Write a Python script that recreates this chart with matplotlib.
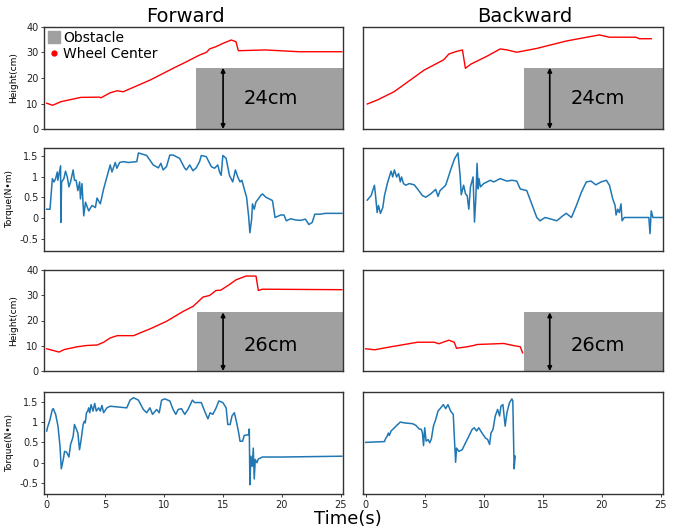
import matplotlib
matplotlib.use("Agg")
import matplotlib.pyplot as plt
from matplotlib.lines import Line2D

# ---- Forward 24cm : wheel center height ----
t_f24_h = [0, 0.5, 1.2, 2.3, 2.9, 4.5, 4.6, 5.4, 6.0, 6.5, 8.8, 10.75, 11.9, 13.0,
           13.6, 13.85, 14.4, 15.0, 15.7, 16.1, 16.3, 18.6, 21.45, 25.1]
h_f24 = [10.1, 9.3, 10.7, 11.8, 12.4, 12.5, 12.2, 14.2, 15.0, 14.6, 19.2, 23.8, 26.4, 29.0,
         30.1, 31.4, 32.3, 33.6, 34.9, 34.2, 30.7, 31.0, 30.3, 30.3]

# ---- Backward 24cm : wheel center height ----
t_b24_h = [0.13, 1.0, 2.4, 4.95, 6.6, 7.05, 7.6, 8.2, 8.45, 8.9, 10.3, 11.4, 12.0, 12.8,
           14.5, 17.0, 19.8, 20.65, 22.9, 23.2, 24.2]
h_b24 = [9.8, 11.4, 14.6, 23.1, 27.1, 29.4, 30.3, 31.0, 23.8, 25.4, 28.6, 31.4, 31.0, 30.1,
         31.6, 34.5, 36.9, 36.0, 36.0, 35.4, 35.4]

# ---- Forward 24cm : torque ----
t_f24_q = [0, 0.28, 0.48, 0.62, 0.76, 0.9, 0.95, 1.18, 1.2, 1.27, 1.46, 1.6, 1.75, 1.89, 2.03,
           2.25, 2.36, 2.5, 2.65, 2.8, 2.87, 3.0, 3.15, 3.3, 3.57, 3.86, 4.14, 4.28, 4.56,
           4.84, 5.12, 5.4, 5.55, 5.83, 5.97, 6.2, 6.53, 6.95, 7.66, 7.8, 8.5, 9.06, 9.5,
           9.71, 9.9, 10.19, 10.47, 10.75, 11.3, 11.74, 11.88, 12.16, 12.44, 12.72, 13.0,
           13.15, 13.57, 14.0, 14.27, 14.55, 14.7, 14.84, 14.98, 15.26, 15.54, 15.82, 16.05,
           16.25, 16.44, 16.6, 16.8, 17.0, 17.17, 17.28, 17.43, 17.5, 17.65, 17.79, 18.2,
           18.35, 18.64, 19.2, 19.42, 19.9, 20.18, 20.38, 20.75, 21.17, 21.6, 22.0, 22.3,
           22.58, 22.8, 23.28, 23.7, 25.1]
q_f24 = [0.21, 0.21, 0.95, 0.87, 0.95, 1.11, 0.91, 1.26, -0.11, 0.87, 0.95, 1.13, 0.99, 0.75,
         0.87, 1.16, 0.91, 0.91, 0.66, 0.87, 0.46, 0.83, 0.05, 0.38, 0.17, 0.3, 0.25, 0.48,
         0.34, 0.70, 0.99, 1.28, 1.11, 1.34, 1.2, 1.34, 1.36, 1.34, 1.36, 1.57, 1.51, 1.28,
         1.21, 1.32, 1.16, 1.24, 1.52, 1.52, 1.44, 1.2, 1.16, 1.28, 1.14, 1.21, 1.36, 1.51,
         1.48, 1.24, 1.2, 1.28, 1.11, 1.03, 1.51, 1.44, 1.03, 0.87, 1.16, 0.99, 0.87, 0.91,
         0.70, 0.50, 0.05, -0.36, -0.03, 0.34, 0.21, 0.38, 0.54, 0.58, 0.50, 0.42, 0.01,
         0.07, 0.07, -0.07, -0.02, -0.05, -0.06, -0.03, -0.16, -0.11, 0.09, 0.09, 0.11, 0.11]

# ---- Backward 24cm : torque ----
t_b24_q = [0.13, 0.46, 0.74, 0.82, 0.97, 1.08, 1.25, 1.45, 1.59, 1.87, 2.15, 2.29, 2.43, 2.62,
           2.79, 2.93, 3.04, 3.2, 3.4, 3.69, 4.11, 4.39, 4.81, 5.09, 5.51, 5.93, 6.13, 6.3,
           6.78, 7.2, 7.53, 7.82, 8.0, 8.1, 8.3, 8.46, 8.6, 8.74, 8.88, 9.1, 9.22, 9.33, 9.44,
           9.53, 9.6, 9.72, 10.0, 10.56, 10.85, 11.4, 11.97, 12.4, 12.8, 13.1, 13.65, 14.07,
           14.5, 14.77, 15.2, 15.6, 16.2, 16.7, 17.0, 17.44, 17.86, 18.28, 18.7, 19.1, 19.5,
           19.96, 20.4, 20.66, 20.94, 21.14, 21.22, 21.36, 21.5, 21.64, 21.73, 21.92, 22.6,
           24.0, 24.1, 24.2, 24.35, 25.15]
q_b24 = [0.43, 0.54, 0.79, 0.58, 0.13, 0.3, 0.11, 0.25, 0.54, 0.87, 1.13, 0.99, 1.16, 0.99,
         1.07, 0.87, 0.99, 0.83, 0.79, 0.83, 0.80, 0.70, 0.54, 0.50, 0.58, 0.69, 0.52, 0.66,
         0.79, 1.16, 1.43, 1.57, 1.03, 0.56, 0.79, 0.58, 0.54, 0.21, 0.75, 0.99, -0.1, 0.46,
         1.32, 0.70, 0.95, 0.75, 0.83, 0.91, 0.87, 0.95, 0.89, 0.91, 0.89, 0.70, 0.66, 0.34,
         0.01, -0.07, 0.01, -0.02, -0.07, 0.05, 0.11, 0.01, 0.30, 0.62, 0.87, 0.89, 0.80,
         0.87, 0.91, 0.79, 0.46, 0.30, 0.07, 0.21, 0.13, 0.34, -0.07, 0.01, 0.01,
         0.01, -0.38, 0.17, 0.01, 0.01]

# ---- Forward 26cm : wheel center height ----
t_f26_h = [0, 1.05, 1.5, 2.6, 3.4, 4.3, 4.85, 5.4, 6.0, 7.4, 7.95, 8.8, 10.2, 11.6, 12.45,
           13.3, 13.85, 14.4, 14.8, 15.5, 16.1, 16.95, 17.8, 18.0, 18.35, 25.1]
h_f26 = [8.8, 7.5, 8.5, 9.6, 10.1, 10.3, 11.4, 13.1, 14.0, 14.0, 15.1, 16.7, 19.7, 23.6, 25.6,
         29.3, 29.9, 31.9, 32.0, 34.1, 36.1, 37.6, 37.6, 31.9, 32.4, 32.2]

# ---- Backward 26cm : wheel center height ----
t_b26_h = [0, 0.75, 2.15, 4.4, 5.8, 6.2, 7.05, 7.5, 7.7, 8.6, 9.15, 9.45, 11.7, 12.5, 13.1, 13.3]
h_b26 = [8.8, 8.4, 9.6, 11.4, 11.4, 10.8, 12.2, 11.4, 9.0, 9.6, 10.1, 10.5, 10.9, 10.1, 9.6, 7.2]

# ---- Forward 26cm : torque ----
t_f26_q = [0, 0.06, 0.28, 0.48, 0.56, 0.76, 0.96, 1.13, 1.24, 1.41, 1.52, 1.69, 1.89, 2.03,
           2.17, 2.25, 2.36, 2.53, 2.65, 2.79, 2.93, 3.1, 3.2, 3.28, 3.38, 3.49, 3.57, 3.66,
           3.77, 3.94, 4.08, 4.22, 4.42, 4.56, 4.7, 4.84, 5.12, 5.4, 6.81, 7.09, 7.38, 7.8,
           8.22, 8.5, 8.78, 9.0, 9.35, 9.57, 9.77, 10.05, 10.47, 10.75, 10.98, 11.18, 11.46,
           11.74, 12.02, 12.39, 12.58, 13.15, 13.43, 13.71, 13.9, 14.13, 14.41, 14.64, 14.98,
           15.26, 15.4, 15.6, 15.76, 15.96, 16.16, 16.33, 16.44, 16.66, 16.8, 17.17, 17.23,
           17.28, 17.37, 17.48, 17.57, 17.65, 17.74, 17.88, 18.0, 18.35, 20.0, 25.1]
q_f26 = [0.78, 0.86, 1.06, 1.31, 1.33, 1.19, 0.90, 0.41, -0.15, 0.08, 0.28, 0.26, 0.14, 0.45,
         0.57, 0.65, 0.94, 0.82, 0.73, 0.32, 0.57, 0.94, 1.02, 0.98, 1.23, 1.27, 1.35, 1.23,
         1.43, 1.27, 1.46, 1.27, 1.35, 1.27, 1.41, 1.23, 1.35, 1.39, 1.35, 1.54, 1.60, 1.54,
         1.31, 1.23, 1.35, 1.19, 1.31, 1.23, 1.54, 1.57, 1.52, 1.31, 1.19, 1.31, 1.33,
         1.19, 1.31, 1.54, 1.48, 1.48, 1.27, 1.08, 1.23, 1.19, 1.35, 1.52, 1.48,
         1.35, 0.94, 0.94, 1.15, 1.23, 0.98, 0.73, 0.53, 0.53, 0.67, 0.69, 0.83,
         -0.54, 0.16, -0.09, 0.36, -0.40, 0.08, 0.0, 0.09, 0.14, 0.14, 0.16]

# ---- Backward 26cm : torque ----
t_b26_q = [0, 1.59, 1.68, 1.81, 1.92, 2.0, 2.15, 2.57, 2.93, 3.27, 3.97, 4.25, 4.53, 4.72, 4.81,
           4.9, 5.0, 5.12, 5.29, 5.43, 5.57, 5.74, 5.93, 6.13, 6.36, 6.58, 6.78, 6.97, 7.2,
           7.42, 7.53, 7.62, 7.7, 7.9, 8.18, 8.46, 8.74, 9.02, 9.2, 9.4, 9.58, 9.86, 10.14,
           10.34, 10.5, 10.62, 10.79, 10.98, 11.18, 11.35, 11.46, 11.63, 11.82, 11.97, 12.19,
           12.39, 12.47, 12.58, 12.67]
q_b26 = [0.50, 0.52, 0.59, 0.65, 0.73, 0.67, 0.78, 0.90, 1.0, 0.98, 0.96, 0.92, 0.83, 0.82,
         0.73, 0.42, 0.86, 0.53, 0.57, 0.49, 0.59, 0.90, 1.06, 1.27, 1.35, 1.43, 1.33, 1.43,
         1.27, 1.19, 0.53, 0.01, 0.36, 0.28, 0.32, 0.49, 0.65, 0.82, 0.86, 0.78, 0.86, 0.73,
         0.61, 0.57, 0.45, 0.73, 0.82, 1.15, 1.31, 1.15, 1.39, 1.43, 0.90, 1.23, 1.48,
         1.57, 1.52, -0.15, 0.16]

# obstacles: start time, height, arrow time, label, label position
obs_start = [12.67, 13.4, 12.8, 13.4]
obs_height = [24, 24, 23.2, 23.2]
arrow_t = [15.0, 15.6, 15.0, 15.6]
obs_label = ["24cm", "24cm", "26cm", "26cm"]
label_t = [19.05, 19.7, 19.05, 19.7]
label_h = [11.8, 11.8, 10.1, 10.1]

h_ticks = [0, 10, 20, 30, 40]
q_ticks = [-0.5, 0, 0.5, 1, 1.5]
q_ticklabels = ["-0.5", "0", "0.5", "1", "1.5"]
t_ticks = [0, 5, 10, 15, 20, 25]

W, H = 694, 529
fig = plt.figure(figsize=(W / 100, H / 100), dpi=100)

cols_px = [(44, 343), (363, 663)]
rows_px = [(27, 129), (148, 251), (270, 371), (392, 494)]
axes = [[None, None] for _ in range(4)]
for r, (yt, yb) in enumerate(rows_px):
    for c, (xl, xr) in enumerate(cols_px):
        ax = fig.add_axes([xl / W, 1 - yb / H, (xr - xl) / W, (yb - yt) / H])
        for s in ax.spines.values():
            s.set_color("#333333")
            s.set_linewidth(1.0)
        ax.set_xlim(-0.23, 25.2)
        ax.tick_params(labelsize=7, length=2.5, width=0.6, colors="#222222", pad=1.5)
        axes[r][c] = ax

height_series = [[(t_f24_h, h_f24), (t_b24_h, h_b24)],
                 [(t_f26_h, h_f26), (t_b26_h, h_b26)]]
torque_series = [[(t_f24_q, q_f24), (t_b24_q, q_b24)],
                 [(t_f26_q, q_f26), (t_b26_q, q_b26)]]
q_lims = [(-0.8, 1.69), (-0.77, 1.74)]

k = 0
for blk in range(2):
    for c in range(2):
        axh = axes[2 * blk][c]
        axq = axes[2 * blk + 1][c]
        axh.bar(obs_start[k], obs_height[k], width=26 - obs_start[k], align="edge",
                color="#a0a0a0", zorder=1)
        axh.annotate("", xy=(arrow_t[k], obs_height[k]), xytext=(arrow_t[k], 0),
                     arrowprops=dict(arrowstyle="<|-|>", color="black", lw=1.2,
                                     mutation_scale=6, shrinkA=0, shrinkB=0), zorder=3)
        axh.text(label_t[k], label_h[k], obs_label[k], fontsize=14, ha="center", va="center")
        th, hh = height_series[blk][c]
        axh.plot(th, hh, color="red", lw=1.0, zorder=2)
        axh.set_ylim(0, 40)
        axh.set_yticks(h_ticks)
        tq, qq = torque_series[blk][c]
        axq.plot(tq, qq, color="#1f77b4", lw=1.1)
        axq.set_ylim(*q_lims[blk])
        axq.set_yticks(q_ticks)
        axq.set_yticklabels(q_ticklabels)
        if c == 0:
            axh.set_ylabel("Height(cm)", fontsize=6.5, labelpad=6)
            axq.set_ylabel("Torque(N\u2022m)", fontsize=6.5, labelpad=4)
        k += 1

for r in range(4):
    for c in range(2):
        ax = axes[r][c]
        if c == 1:
            ax.set_yticks([])
        if r < 3:
            ax.set_xticks([])
        else:
            ax.set_xticks(t_ticks)

axes[0][0].legend(handles=[Line2D([], [], ls="", marker="s", ms=9, color="#a0a0a0"),
                           Line2D([], [], ls="", marker="o", ms=3.5, color="red")],
                  labels=["Obstacle", "Wheel Center"], loc="upper left", frameon=False,
                  fontsize=10, handlelength=0.8, handletextpad=0.3, labelspacing=0.1,
                  borderaxespad=0.1, borderpad=0.2)

fig.text(185.5 / W, 1 - 16 / H, "Forward", fontsize=14, ha="center", va="center")
fig.text(524.5 / W, 1 - 16 / H, "Backward", fontsize=14, ha="center", va="center")
fig.text(348 / W, 1 - 519 / H, "Time(s)", fontsize=13, ha="center", va="center")

fig.savefig("out.png", dpi=100)
